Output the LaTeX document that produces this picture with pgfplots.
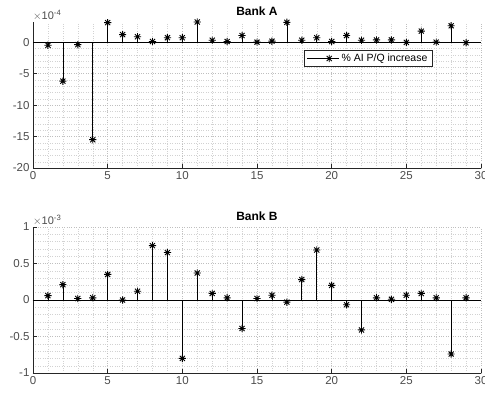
\documentclass[border=0pt]{standalone}
\usepackage{fontspec}
\setmainfont{Liberation Sans}
\usepackage{pgfplots}
\pgfplotsset{compat=1.18}
\definecolor{axgray}{rgb}{0.15,0.15,0.15}
\definecolor{tickgray}{rgb}{0.3,0.3,0.3}
\pgfdeclareplotmark{star8}{%
  \pgfpathmoveto{\pgfqpoint{-\pgfplotmarksize}{0pt}}\pgfpathlineto{\pgfqpoint{\pgfplotmarksize}{0pt}}%
  \pgfpathmoveto{\pgfqpoint{0pt}{-\pgfplotmarksize}}\pgfpathlineto{\pgfqpoint{0pt}{\pgfplotmarksize}}%
  \pgfpathmoveto{\pgfqpoint{-0.707\pgfplotmarksize}{-0.707\pgfplotmarksize}}\pgfpathlineto{\pgfqpoint{0.707\pgfplotmarksize}{0.707\pgfplotmarksize}}%
  \pgfpathmoveto{\pgfqpoint{-0.707\pgfplotmarksize}{0.707\pgfplotmarksize}}\pgfpathlineto{\pgfqpoint{0.707\pgfplotmarksize}{-0.707\pgfplotmarksize}}%
  \pgfusepathqstroke}
\pgfplotsset{
  mystyle/.style={
    scale only axis, width=448pt, height=146pt,
    xmin=0, xmax=30, xtick={0,5,...,30},
    axis x line=bottom, axis y line=left,
    axis line style={-, axgray, line width=0.7pt},
    tick align=inside, tick style={axgray, line width=0.7pt},
    major tick length=4pt, minor tick length=0pt,
    minor tick num=4,
    grid=both,
    major grid style={gray!50, dotted, line width=0.5pt},
    minor grid style={gray!35, dotted, line width=0.4pt},
    ticklabel style={font=\fontsize{11.5}{13}\selectfont, text=tickgray},
    /pgf/number format/assume math mode=true,
    scaled y ticks=false,
    title style={font=\bfseries\fontsize{12}{14}\selectfont, yshift=-3pt},
    clip=false,
  },
  stemstyle/.style={black, line width=0.7pt, ycomb, mark=star8, mark size=3.6pt, mark options={line width=0.9pt}},
}
\begin{document}
\begin{tikzpicture}
\useasboundingbox (0pt,0pt) rectangle (485pt,394pt);
\begin{axis}[mystyle, at={(33pt,226pt)}, anchor=south west,
  ymin=-20, ymax=3.2, ytick={-20,-15,...,0},
  title={Bank A},
  legend style={at={(0.748,0.75)}, anchor=center, draw=axgray, line width=0.6pt, font=\fontsize{10.5}{12}\selectfont, inner xsep=3pt, inner ysep=1.5pt, row sep=0pt},
  legend cell align=left,
]
\addplot[black, line width=0.7pt, forget plot] coordinates {(0,0) (30,0)};
\addplot[stemstyle, legend image code/.code={\draw[sharp plot, mark repeat=2, mark phase=2] plot coordinates {(0pt,0pt)(22pt,0pt)(32pt,0pt)};}] coordinates {
(1,-0.5) (2,-6.2) (3,-0.4) (4,-15.5) (5,3.1) (6,1.2) (7,0.85) (8,0.1) (9,0.7) (10,0.7)
(11,3.2) (12,0.3) (13,0.1) (14,1.05) (15,0.0) (16,0.15) (17,3.15) (18,0.3) (19,0.7) (20,0.1)
(21,1.05) (22,0.3) (23,0.35) (24,0.35) (25,-0.05) (26,1.75) (27,0.0) (28,2.6) (29,-0.1)
};
\addlegendentry{\% AI P/Q increase}
\node[anchor=south west, text=tickgray, font=\fontsize{11}{13}\selectfont, inner sep=0pt] at ([yshift=1pt]rel axis cs:0,1) {$\times$10\textsuperscript{-4}};
\end{axis}
\begin{axis}[mystyle, at={(33pt,21pt)}, anchor=south west,
  ymin=-1, ymax=1, ytick={-1,-0.5,0,0.5,1},
  yticklabels={-1,-0.5,0,0.5,1},
  title={Bank B},
]
\addplot[black, line width=0.7pt, forget plot] coordinates {(0,0) (30,0)};
\addplot[stemstyle] coordinates {
(1,0.06) (2,0.21) (3,0.02) (4,0.03) (5,0.35) (6,0.0) (7,0.12) (8,0.745) (9,0.65) (10,-0.8)
(11,0.37) (12,0.09) (13,0.03) (14,-0.39) (15,0.02) (16,0.065) (17,-0.03) (18,0.28) (19,0.685) (20,0.2)
(21,-0.065) (22,-0.41) (23,0.03) (24,0.01) (25,0.065) (26,0.09) (27,0.03) (28,-0.74) (29,0.03)
};
\node[anchor=south west, text=tickgray, font=\fontsize{11}{13}\selectfont, inner sep=0pt] at ([yshift=1pt]rel axis cs:0,1) {$\times$10\textsuperscript{-3}};
\end{axis}
\end{tikzpicture}
\end{document}
